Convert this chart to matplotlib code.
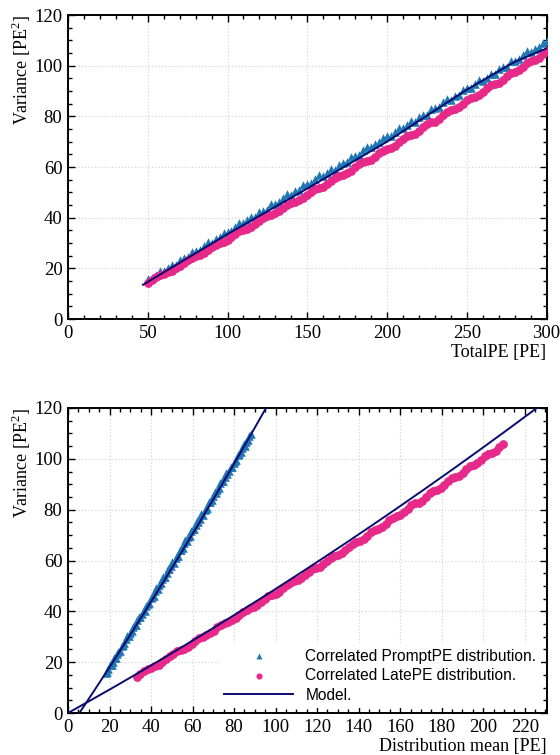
import numpy as np
import matplotlib
matplotlib.use("Agg")
import matplotlib.pyplot as plt

plt.rcParams['font.family'] = 'Liberation Serif'
plt.rcParams['mathtext.fontset'] = 'custom'
plt.rcParams['mathtext.rm'] = 'Liberation Serif'

# total charge per event bin
total_pe = np.arange(50, 300.1, 2.5)

var_prompt = [15.8, 16.0, 17.5, 18.9, 19.0, 20.1, 21.5, 21.5, 23.2, 24.0,
              24.4, 26.3, 26.7, 27.4, 29.0, 30.3, 30.1, 31.5, 32.2, 33.8,
              34.5, 34.8, 36.4, 37.8, 37.7, 39.0, 40.4, 40.2, 42.1, 42.8,
              43.1, 45.2, 45.5, 46.1, 47.9, 49.2, 48.9, 50.4, 51.0, 52.7,
              53.4, 53.5, 55.2, 56.7, 56.5, 57.7, 59.3, 59.0, 60.9, 61.6,
              61.9, 64.1, 64.3, 64.9, 66.7, 68.0, 67.7, 69.1, 69.8, 71.5,
              72.3, 72.2, 74.0, 75.5, 75.3, 76.5, 78.1, 77.8, 79.7, 80.4,
              80.7, 82.9, 83.1, 83.7, 85.5, 86.9, 86.4, 87.9, 88.5, 90.3,
              91.1, 91.1, 92.8, 94.3, 94.0, 95.2, 96.9, 96.6, 98.5, 99.3,
              99.5, 101.7, 101.9, 102.5, 104.3, 105.7, 105.2, 106.7, 107.3, 109.1,
              109.8]

var_late = [14.2, 15.4, 16.5, 17.3, 17.9, 18.4, 19.0, 20.0, 21.1, 22.3,
            23.3, 24.2, 24.8, 25.2, 26.0, 27.3, 28.5, 29.4, 30.0, 30.5,
            31.3, 32.4, 33.7, 34.6, 35.3, 35.7, 36.4, 37.4, 38.6, 39.8,
            40.6, 41.2, 41.7, 42.6, 43.8, 45.0, 45.9, 46.3, 46.9, 47.8,
            49.0, 50.3, 51.2, 51.9, 52.3, 53.1, 54.3, 55.6, 56.5, 57.0,
            57.6, 58.5, 59.9, 61.1, 61.9, 62.3, 62.9, 64.0, 65.5, 66.5,
            67.2, 67.6, 68.4, 69.7, 71.1, 72.1, 72.5, 73.1, 74.2, 75.8,
            76.9, 77.6, 77.9, 78.9, 80.4, 81.7, 82.5, 82.8, 83.6, 85.0,
            86.4, 87.4, 87.8, 88.5, 89.6, 91.2, 92.3, 92.7, 93.3, 94.5,
            96.1, 97.1, 97.6, 98.2, 99.5, 101.0, 102.0, 102.4, 103.1, 104.6,
            105.8]

mean_prompt = [18.1, 18.9, 19.4, 20.2, 21.0, 21.6, 22.2, 23.0, 23.7, 24.3,
               25.1, 25.8, 26.6, 27.1, 27.9, 28.6, 29.2, 30.0, 30.8, 31.4,
               32.1, 32.8, 33.4, 34.2, 34.9, 35.6, 36.4, 36.9, 37.7, 38.4,
               39.1, 39.8, 40.6, 41.2, 41.8, 42.6, 43.3, 44.0, 44.8, 45.4,
               46.0, 46.8, 47.6, 48.2, 48.8, 49.6, 50.3, 51.0, 51.8, 52.4,
               53.1, 53.8, 54.4, 55.2, 55.9, 56.6, 57.4, 57.9, 58.7, 59.4,
               60.1, 60.8, 61.6, 62.2, 62.8, 63.6, 64.3, 65.0, 65.8, 66.4,
               67.1, 67.8, 68.4, 69.2, 69.9, 70.6, 71.4, 71.9, 72.7, 73.4,
               74.1, 74.8, 75.6, 76.2, 76.8, 77.6, 78.3, 79.0, 79.8, 80.4,
               81.1, 81.8, 82.4, 83.2, 83.9, 84.6, 85.4, 85.9, 86.7, 87.4,
               88.1]

mean_late = [33.0, 34.8, 36.5, 38.3, 40.1, 41.8, 43.6, 45.4, 47.1, 48.9,
             50.7, 52.4, 54.2, 55.9, 57.7, 59.5, 61.2, 63.0, 64.8, 66.5,
             68.3, 70.1, 71.8, 73.6, 75.4, 77.1, 78.9, 80.7, 82.4, 84.2,
             86.0, 87.7, 89.5, 91.2, 93.0, 94.8, 96.5, 98.3, 100.1, 101.8,
             103.6, 105.4, 107.1, 108.9, 110.7, 112.4, 114.2, 116.0, 117.7, 119.5,
             121.3, 123.0, 124.8, 126.5, 128.3, 130.1, 131.8, 133.6, 135.4, 137.1,
             138.9, 140.7, 142.4, 144.2, 146.0, 147.7, 149.5, 151.3, 153.0, 154.8,
             156.6, 158.3, 160.1, 161.8, 163.6, 165.4, 167.1, 168.9, 170.7, 172.4,
             174.2, 176.0, 177.7, 179.5, 181.3, 183.0, 184.8, 186.6, 188.3, 190.1,
             191.9, 193.6, 195.4, 197.1, 198.9, 200.7, 202.4, 204.2, 206.0, 207.7,
             209.5]

# model curve vs total charge
model_total_x = [47, 100, 150, 200, 250, 280, 300]
model_total_y = [13.5, 33.5, 51.5, 70.0, 90.5, 101.5, 106.8]

# quadratic variance model: var = a*(m - m0) + b*(m - m0)^2
model_prompt = {'a': 1.227, 'b': 0.0012, 'm0': 5.5}
model_late = {'a': 0.4537, 'b': 0.000344, 'm0': 0.0}

c_prompt = '#1f77b4'
c_late = '#e7298a'
c_model = '#0a0a70'


def style_axes(ax, xmax, xmajor, xminor):
    ax.set_xlim(0, xmax)
    ax.set_ylim(0, 120)
    ax.set_xticks(np.arange(0, xmax + 0.1, xmajor))
    ax.set_xticks(np.arange(0, xmax + 0.1, xminor), minor=True)
    ax.set_yticks(np.arange(0, 121, 20))
    ax.set_yticks(np.arange(0, 121, 5), minor=True)
    ax.tick_params(which='both', direction='in', top=True, right=True,
                   labelsize=13.5, width=1.0, color='black', pad=4)
    ax.tick_params(which='major', length=5)
    ax.tick_params(which='minor', length=3)
    ax.grid(True, which='major', linestyle=(0, (1, 2)), color='#cfcfcf', linewidth=0.8)
    ax.set_axisbelow(True)
    for s in ax.spines.values():
        s.set_linewidth(1.4)
    ax.set_ylabel(r'Variance [PE$^{2}$]', fontsize=13, loc='top', labelpad=1)


def model_curve(p, m):
    u = m - p['m0']
    return p['a'] * u + p['b'] * u ** 2


fig = plt.figure(figsize=(5.6, 7.55), dpi=100)

ax1 = fig.add_axes([68 / 560, 1 - 319 / 755, 478.5 / 560, 304 / 755])
style_axes(ax1, 300, 50, 10)
ax1.scatter(total_pe, var_prompt, marker='^', s=38, color=c_prompt, linewidths=0, zorder=3)
ax1.scatter(total_pe, var_late, marker='o', s=40, color=c_late, linewidths=0, zorder=4)
ax1.plot(model_total_x, model_total_y, color=c_model, linewidth=1.4, zorder=5)
ax1.set_xlabel('TotalPE [PE]', fontsize=13, loc='right', labelpad=2)

ax2 = fig.add_axes([68 / 560, 1 - 713 / 755, 478.5 / 560, 305 / 755])
style_axes(ax2, 230.5, 20, 5)
ax2.scatter(mean_prompt, var_prompt, marker='^', s=38, color=c_prompt, linewidths=0,
            zorder=3, label='Correlated PromptPE distribution.')
ax2.scatter(mean_late, var_late, marker='o', s=40, color=c_late, linewidths=0,
            zorder=4, label='Correlated LatePE distribution.')
mp = np.linspace(model_prompt['m0'], 100, 200)
ml = np.linspace(model_late['m0'], 232, 200)
ax2.plot(mp, model_curve(model_prompt, mp), color=c_model, linewidth=1.4, zorder=5,
         label='Model.')
ax2.plot(ml, model_curve(model_late, ml), color=c_model, linewidth=1.4, zorder=5)
ax2.set_xlabel('Distribution mean [PE]', fontsize=13, loc='right', labelpad=2)

leg = ax2.legend(loc='lower right', bbox_to_anchor=(1.0, 0.0), frameon=True,
                 fancybox=False, edgecolor='none', facecolor='white', framealpha=1,
                 prop={'family': 'Liberation Sans', 'size': 11.2}, handlelength=4.4,
                 handletextpad=0.8, markerscale=0.7, borderaxespad=0.35,
                 labelspacing=0.3, borderpad=0.3)

fig.savefig('out.png', dpi=100)
